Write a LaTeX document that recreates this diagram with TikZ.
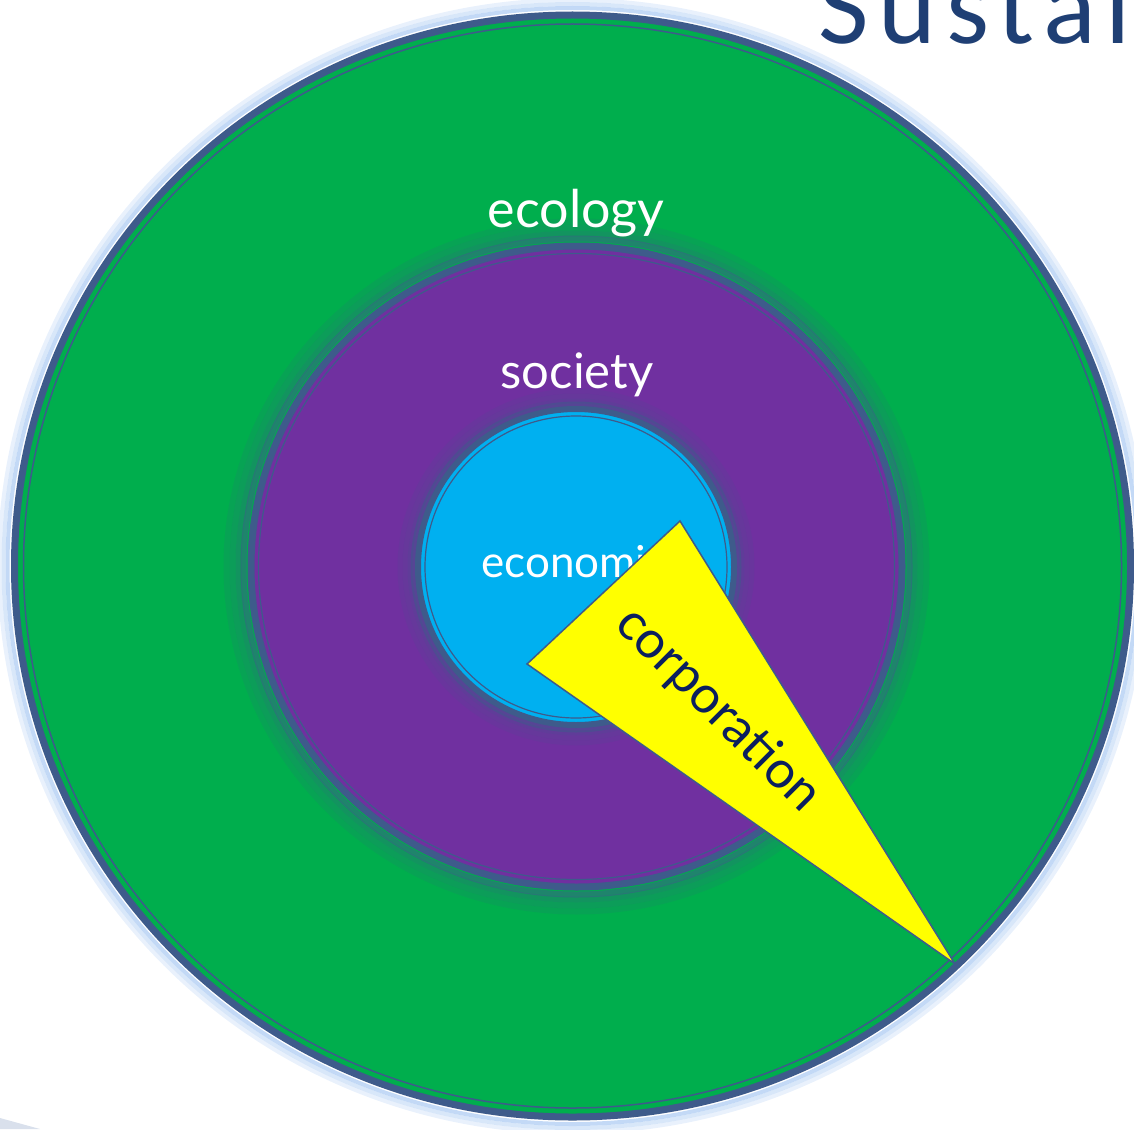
\documentclass[tikz,border=0pt]{standalone}
\usepackage{fontspec}
\setmainfont{Lato}
\newfontfamily\titlefont[LetterSpace=9]{Carlito}
\definecolor{ecogreen}{HTML}{00AE4D}
\definecolor{socpurple}{HTML}{7030A0}
\definecolor{econblue}{HTML}{00B0F0}
\definecolor{corpyellow}{HTML}{FFFF00}
\definecolor{rimblue}{HTML}{3E5B8B}
\definecolor{glowblue}{HTML}{A9C9F2}
\definecolor{titleblue}{HTML}{1F3F74}
\definecolor{corpnavy}{HTML}{0B1F5E}
\definecolor{slidegray}{HTML}{D9E0EC}

\begin{document}
\begin{tikzpicture}[x=1pt, y=-1pt,
    ringlabel/.style={anchor=base, inner sep=0, text=white, font=\fontsize{50}{60}\selectfont}]
  \useasboundingbox (0,0) rectangle (1134,1129);
  \clip (0,0) rectangle (1134,1129);
  % title, cut by the slide edge
  \node[anchor=base west, inner sep=0, text=titleblue, font=\titlefont\fontsize{110}{120}\selectfont]
    (title) at (818,44) {Sustai};
  \fill[slidegray] (0,1118) -- (40,1129) -- (0,1129) -- cycle;

  % ecology ring
  \coordinate (ecomid) at (572.5,566);
  \foreach \rx/\ry/\o in {573/566/0.25, 569/562/0.45, 565/558/0.7}
    \draw[glowblue, line width=4pt, opacity=\o] (ecomid) ellipse [x radius=\rx pt, y radius=\ry pt];
  \fill[ecogreen] (ecomid) ellipse [x radius=558pt, y radius=551pt];
  \draw[rimblue, line width=7pt] (ecomid) ellipse [x radius=558pt, y radius=551pt];
  \draw[rimblue, line width=1.5pt] (ecomid) ellipse [x radius=549pt, y radius=542pt];

  % society ring
  \coordinate (socmid) at (576.5,566.5);
  \foreach \rx/\ry/\o in {350/345/0.12, 344/339/0.2, 338/333/0.3, 333/328/0.5}
    \draw[rimblue, line width=6pt, opacity=\o] (socmid) ellipse [x radius=\rx pt, y radius=\ry pt];
  \fill[socpurple] (socmid) ellipse [x radius=325.5pt, y radius=320.5pt];
  \draw[rimblue, line width=7pt] (socmid) ellipse [x radius=325.5pt, y radius=320.5pt];
  \draw[rimblue, line width=1.2pt] (socmid) ellipse [x radius=318pt, y radius=313pt];

  % economy disc
  \coordinate (econmid) at (576,567);
  \foreach \r/\o in {176/0.12, 171/0.2, 166/0.3, 163/0.5}
    \draw[rimblue, line width=5pt, opacity=\o] (econmid) circle [radius=\r pt];
  \fill[econblue] (econmid) circle [radius=158pt];
  \draw[rimblue, line width=6pt] (econmid) circle [radius=158pt];
  \draw[rimblue, line width=1.2pt] (econmid) circle [radius=151pt];

  \node[ringlabel, font=\fontsize{52}{60}\selectfont] (ecology) at (576,227) {ecology};
  \node[ringlabel, font=\fontsize{49}{58}\selectfont] (society) at (577,388) {society};
  \node[ringlabel, anchor=base west, font=\fontsize{44}{52}\selectfont]
    (economics) at (481,577) {economics};

  % corporation wedge
  \coordinate (apex) at (680,521);
  \coordinate (heel) at (527,664);
  \coordinate (tip) at (955,964);
  \filldraw[fill=corpyellow, draw=rimblue, line width=1.5pt] (apex) -- (heel) -- (tip) -- cycle;
  \node[rotate=-45, inner sep=0, text=corpnavy, font=\fontsize{52}{60}\selectfont]
    (corporation) at (718,710) {corporation};
\end{tikzpicture}
\end{document}
